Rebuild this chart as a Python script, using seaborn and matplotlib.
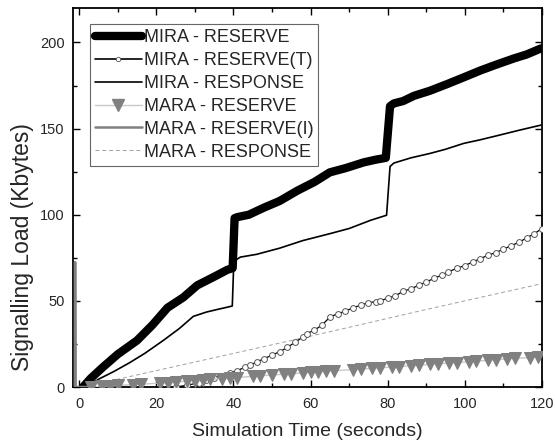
import numpy as np
import pandas as pd
import matplotlib
matplotlib.use("Agg")
import matplotlib.pyplot as plt
import seaborn as sns
from matplotlib.ticker import MultipleLocator
from matplotlib.lines import Line2D

# ---------------- data ----------------
mira_reserve_x = [1.0, 3, 6.2, 10, 15, 19, 22.9, 27, 30.6, 35, 38.4, 39.8, 40.3, 41, 44, 47.8,
                  52, 56.6, 61, 65, 69, 73.8, 77, 79.5, 80.6, 81.6, 84, 86.8, 91, 95.6, 100,
                  104, 108, 112.7, 116, 119.7]
mira_reserve_y = [0, 5, 11.6, 19, 27, 36, 46, 52, 59, 64, 68, 69, 98, 98.6, 100, 104,
                  108, 114, 119, 124.6, 127, 130.4, 132, 133, 163, 164.6, 166, 169, 172, 176, 180,
                  183.7, 187, 190.7, 193, 196.5]

mira_reserve_t_x = [25, 28, 31, 33, 35, 37, 39, 41, 43, 44.4, 46, 48, 50, 52, 54, 56, 58, 59, 61,
                    63, 65, 67, 69, 71, 73, 75, 77, 78, 80, 82, 84, 86, 88, 90, 92, 94, 95.6, 98,
                    100, 102, 104, 106, 108, 110, 112, 114, 116, 118, 120]
mira_reserve_t_y = [0, 1, 2.5, 4, 5.5, 6.5, 8, 9.5, 11.5, 12.8, 14.5, 16.5, 18.5, 20.5, 23, 26, 29,
                    31, 33, 36, 40.6, 42.5, 44, 46, 47.5, 49, 49.5, 50, 51.5, 53, 55.5, 57, 59, 61,
                    63, 65, 66.7, 69, 70.5, 72.5, 74.5, 76.5, 78, 80, 82, 84, 86.5, 89, 92]

mira_response_x = [2, 5, 9, 13, 17, 21.8, 26, 29.6, 33, 35.8, 39.7, 40.1, 41.8, 46, 52, 58, 65,
                   70, 75.6, 79.7, 80.6, 81.6, 86, 91, 95, 99.7, 104, 108.6, 114, 119.7]
mira_response_y = [0, 4.5, 9, 14, 19.5, 27, 34, 41, 43.5, 45, 47, 73, 75.4, 77, 80.6, 85, 89,
                   92, 96.8, 99.7, 128, 130, 133, 135.6, 138, 141.4, 143.5, 146, 149, 152]

mara_reserve_x = [3, 6, 8, 10, 14, 16, 21, 23, 25, 28, 30, 32, 34, 37, 39, 41, 45, 47, 50, 53,
                  55, 58, 60, 62, 64, 66, 71, 73, 76, 78, 81, 83, 86, 88, 91, 93, 96, 98, 101,
                  103, 106, 108, 111, 113, 117, 119]
mara_reserve_y = [0, 0.4, 0.6, 0.9, 1.4, 1.6, 2.3, 2.6, 2.9, 3.4, 3.7, 4.0, 4.4, 4.9, 5.2, 5.5,
                  6.2, 6.5, 7.0, 7.4, 7.7, 8.2, 8.5, 8.8, 9.1, 9.4, 10.1, 10.4, 10.8, 11.1, 11.6,
                  11.9, 12.3, 12.6, 13.1, 13.4, 13.9, 14.2, 14.7, 15.0, 15.5, 15.8, 16.3, 16.6,
                  17.1, 17.4]

mara_reserve_i_x = [-1.1, -1.05, -0.95, 3]
mara_reserve_i_y = [0, 72.5, 0, 0]

mara_response_x = [1, 30, 60, 90, 120]
mara_response_y = [0, 14.5, 29.5, 45, 60]

labels = ["MIRA - RESERVE", "MIRA - RESERVE(T)", "MIRA - RESPONSE",
          "MARA - RESERVE", "MARA - RESERVE(I)", "MARA - RESPONSE"]
x_ticks = [0, 20, 40, 60, 80, 100, 120]
y_ticks = [0, 50, 100, 150, 200]

# ---------------- style ----------------
sns.set_style("ticks")
plt.rcParams["font.family"] = ["Liberation Sans", "DejaVu Sans"]

fig = plt.figure(figsize=(5.55, 4.43), dpi=100)
ax = fig.add_axes([0.1315, 0.1264, 0.8451, 0.8556])

common = dict(ax=ax, estimator=None, sort=False, legend=False)

sns.lineplot(x=mira_reserve_x, y=mira_reserve_y, color="black", lw=6,
             solid_capstyle="round", solid_joinstyle="round", zorder=3, **common)
sns.lineplot(x=mira_reserve_t_x, y=mira_reserve_t_y, color="black", lw=0.9,
             marker="o", markersize=4.2, markerfacecolor="white",
             markeredgecolor="#555555", markeredgewidth=0.7, zorder=4, **common)
sns.lineplot(x=mira_response_x, y=mira_response_y, color="black", lw=1.2, zorder=5, **common)
sns.lineplot(x=mara_reserve_x, y=mara_reserve_y, color="#c8c8c8", lw=1.0,
             marker="v", markersize=8.5, markerfacecolor="#808080",
             markeredgecolor="#808080", zorder=6, **common)
sns.lineplot(x=mara_reserve_i_x, y=mara_reserve_i_y, color="#808080", lw=1.8, zorder=7, **common)
sns.lineplot(x=mara_response_x, y=mara_response_y, color="#a0a0a0", lw=0.7,
             dashes=False, zorder=2, **common)
ax.lines[-1].set_linestyle((0, (4, 3)))

# legend
handles = [
    Line2D([], [], color="black", lw=6, solid_capstyle="round"),
    Line2D([], [], color="black", lw=1.2, marker="o", markersize=3.2,
           markerfacecolor="white", markeredgecolor="#555555", markeredgewidth=0.6),
    Line2D([], [], color="black", lw=1.2),
    Line2D([], [], color="#c8c8c8", lw=1.0, marker="v", markersize=8,
           markerfacecolor="#808080", markeredgecolor="#808080"),
    Line2D([], [], color="#808080", lw=1.8),
    Line2D([], [], color="#a0a0a0", lw=0.7, linestyle=(0, (4, 3))),
]
leg = ax.legend(handles, labels, loc="upper left", bbox_to_anchor=(0.036, 0.958),
                borderaxespad=0, fontsize=13, frameon=True, fancybox=False,
                handlelength=2.6, handletextpad=0.1, labelspacing=0.33,
                borderpad=0.28, numpoints=1)
leg.get_frame().set_edgecolor("#404040")
leg.get_frame().set_linewidth(0.8)

ax.set_xlim(-1.6, 120)
ax.set_ylim(0, 220)
ax.set_xticks(x_ticks)
ax.set_yticks(y_ticks)
ax.xaxis.set_minor_locator(MultipleLocator(10))
ax.yaxis.set_minor_locator(MultipleLocator(25))
ax.tick_params(which="both", direction="in", top=True, right=True, labelsize=10.5,
               width=1.0, color="black")
ax.tick_params(which="major", length=5)
ax.tick_params(axis="x", which="major", pad=7)
ax.tick_params(axis="y", which="major", pad=6)
ax.tick_params(which="minor", length=3)
for s in ax.spines.values():
    s.set_linewidth(1.3)
    s.set_color("black")

ax.set_xlabel("Simulation Time (seconds)", fontsize=14, labelpad=9)
ax.set_ylabel("Signalling Load (Kbytes)", fontsize=16.5)
ax.yaxis.set_label_coords(-0.083, 0.37)

fig.savefig("out.png", dpi=100)
